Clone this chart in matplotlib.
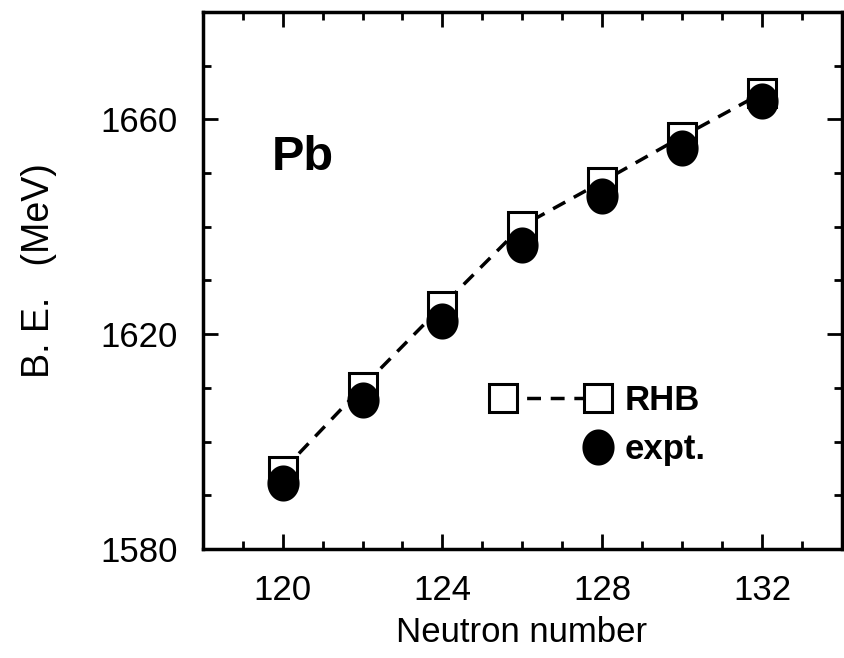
import numpy as np
import matplotlib
matplotlib.use("Agg")
import matplotlib.pyplot as plt
from matplotlib.legend_handler import HandlerLine2DCompound

plt.rcParams["font.family"] = ["Liberation Sans", "DejaVu Sans"]

# Energías de ligadura de los isótopos de Pb
neutrones = [120, 122, 124, 126, 128, 130, 132]
be_rhb = [1594.6, 1610.2, 1625.3, 1640.2, 1648.4, 1656.8, 1664.9]
be_expt = [1592.3, 1607.7, 1622.4, 1636.6, 1645.7, 1654.6, 1663.4]

x_mayores = [120, 124, 128, 132]
x_menores = list(range(118, 135))
y_mayores = [1580, 1620, 1660]
y_menores = list(range(1580, 1681, 10))

# marcador elíptico (un poco más alto que ancho)
ang = np.linspace(0, 2 * np.pi, 80)
elipse = np.column_stack([0.89 * np.cos(ang), np.sin(ang)])


class MarcadorDerecha(HandlerLine2DCompound):
    # pone el único marcador en el extremo derecho del handle
    def get_xdata(self, legend, xdescent, ydescent, width, height, fontsize):
        xdata, xm = super().get_xdata(legend, xdescent, ydescent, width, height, fontsize)
        return xdata, xm[-1:]


fig = plt.figure(figsize=(8.44, 6.58), dpi=100)
ax = fig.add_axes([0.2402, 0.1657, 0.7574, 0.8161])

linea_rhb, = ax.plot(neutrones, be_rhb, color="black", lw=2.5, linestyle=(0, (4, 2.8)),
                     marker="s", ms=20, mew=2.2, mfc="white", mec="black", zorder=2)
linea_expt, = ax.plot(neutrones, be_expt, linestyle="none", marker=elipse, ms=26,
                      mfc="black", mec="black", mew=0, zorder=3)

ax.set_xlim(118, 134)
ax.set_ylim(1580, 1680)
ax.set_xticks(x_mayores)
ax.set_xticks(x_menores, minor=True)
ax.set_yticks(y_mayores)
ax.set_yticks(y_menores, minor=True)
ax.tick_params(which="both", direction="in", top=True, right=True, width=2)
ax.tick_params(which="major", length=11, labelsize=25, pad=18)
ax.tick_params(which="minor", length=5.5)
for s in ax.spines.values():
    s.set_linewidth(2.5)

ax.set_xlabel("Neutron number", fontsize=25)
ax.set_ylabel("B. E.   (MeV)", fontsize=27)
ax.xaxis.set_label_coords(0.498, -0.125)
ax.yaxis.set_label_coords(-0.228, 0.518)

ax.text(0.108, 0.706, "Pb", transform=ax.transAxes, fontsize=35,
        fontweight="bold", va="baseline", ha="left")

leg = ax.legend([linea_rhb, linea_expt], ["RHB", "expt."], loc="center left",
                bbox_to_anchor=(0.454, 0.231), frameon=False, numpoints=2,
                handlelength=3.33, handletextpad=0.45, labelspacing=0.45,
                borderpad=0, borderaxespad=0,
                prop={"size": 25, "weight": "bold"},
                handler_map={linea_expt: MarcadorDerecha()})

fig.savefig("out.png", dpi=100)
